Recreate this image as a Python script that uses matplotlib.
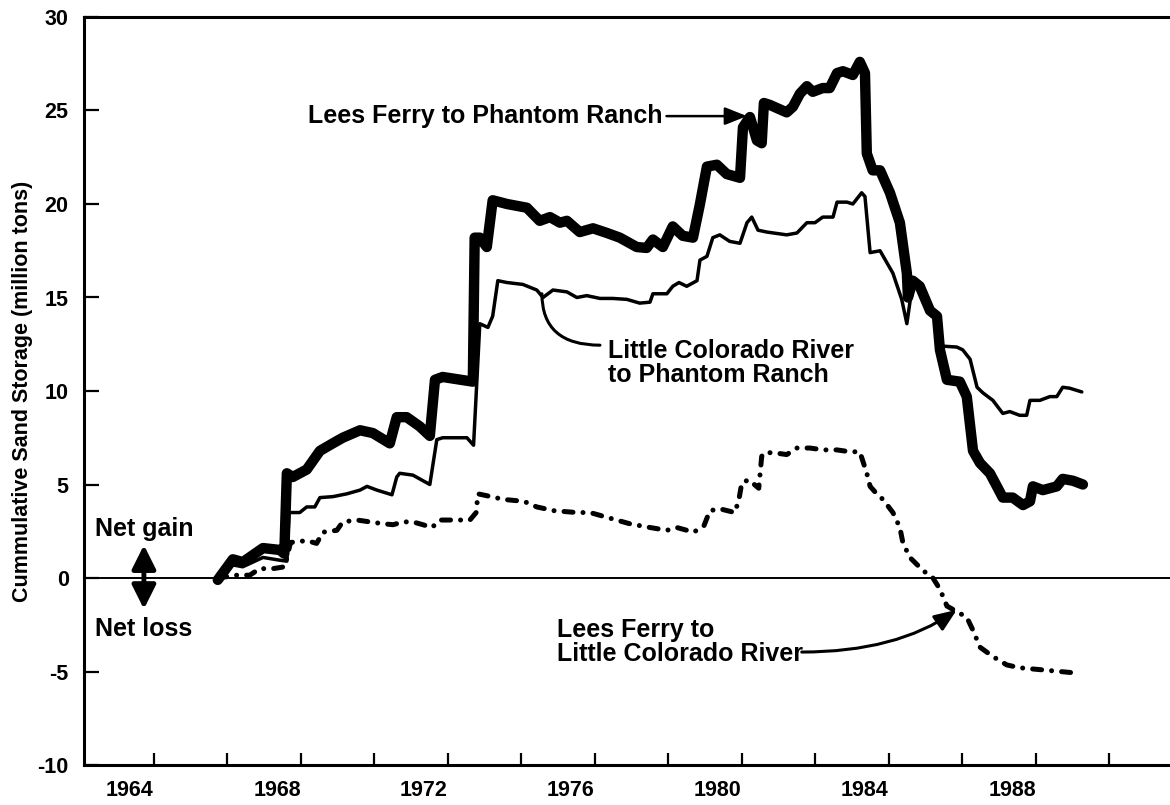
import numpy as np
import matplotlib
matplotlib.use("Agg")
import matplotlib.pyplot as plt

plt.rcParams['font.family'] = ['Liberation Sans', 'DejaVu Sans']
plt.rcParams['font.weight'] = 'bold'
plt.rcParams['axes.unicode_minus'] = False

# Lees Ferry to Phantom Ranch (heavy line)
lfpr_years = [1965.74, 1966.15, 1966.42, 1966.97, 1967.43, 1967.55, 1967.62, 1967.78,
              1968.16, 1968.52, 1968.87, 1969.14, 1969.61, 1969.96, 1970.42, 1970.61,
              1970.88, 1971.24, 1971.51, 1971.65, 1971.86, 1972.68, 1972.73, 1972.87,
              1973.06, 1973.22, 1973.61, 1974.15, 1974.50, 1974.78, 1975.05, 1975.24,
              1975.59, 1975.95, 1976.33, 1976.68, 1977.14, 1977.41, 1977.58, 1977.85,
              1978.12, 1978.39, 1978.67, 1978.86, 1979.05, 1979.32, 1979.59, 1979.95,
              1980.03, 1980.22, 1980.41, 1980.54, 1980.60, 1980.76, 1981.22, 1981.39,
              1981.58, 1981.77, 1981.93, 1982.20, 1982.39, 1982.59, 1982.75, 1983.02,
              1983.21, 1983.35, 1983.40, 1983.56, 1983.76, 1984.03, 1984.30, 1984.49,
              1984.52, 1984.65, 1984.84, 1985.12, 1985.31, 1985.39, 1985.58, 1985.93,
              1986.12, 1986.29, 1986.48, 1986.75, 1986.94, 1987.10, 1987.37, 1987.65,
              1987.84, 1987.92, 1988.19, 1988.57, 1988.73, 1989.01, 1989.28]
lfpr_storage = [-0.1, 1.0, 0.85, 1.6, 1.5, 1.3, 5.6, 5.4,
                5.8, 6.8, 7.2, 7.5, 7.9, 7.75, 7.2, 8.6,
                8.6, 8.1, 7.6, 10.6, 10.75, 10.5, 18.2, 18.2,
                17.7, 20.2, 20.0, 19.8, 19.1, 19.3, 19.0, 19.1,
                18.5, 18.7, 18.45, 18.2, 17.7, 17.65, 18.1, 17.7,
                18.8, 18.3, 18.2, 20.0, 22.0, 22.1, 21.6, 21.4,
                24.1, 24.65, 23.4, 23.25, 25.4, 25.3, 24.9, 25.2,
                25.9, 26.3, 26.0, 26.2, 26.2, 27.0, 27.1, 26.9,
                27.6, 27.0, 22.7, 21.8, 21.8, 20.6, 19.0, 16.3,
                15.0, 15.9, 15.6, 14.3, 14.0, 12.2, 10.6, 10.5,
                9.7, 6.8, 6.15, 5.6, 4.9, 4.3, 4.3, 3.9,
                4.1, 4.9, 4.7, 4.9, 5.3, 5.2, 5.0]

# Little Colorado River to Phantom Ranch (thin line)
lcpr_years = [1965.74, 1966.15, 1966.42, 1966.97, 1967.43, 1967.62, 1967.68, 1967.97,
              1968.16, 1968.38, 1968.52, 1968.87, 1969.25, 1969.61, 1969.80, 1970.07,
              1970.48, 1970.61, 1970.69, 1971.05, 1971.51, 1971.70, 1971.86, 1972.52,
              1972.70, 1972.87, 1973.09, 1973.22, 1973.36, 1973.61, 1974.04, 1974.42,
              1974.59, 1974.86, 1975.24, 1975.51, 1975.78, 1976.14, 1976.49, 1976.87,
              1977.22, 1977.50, 1977.58, 1977.96, 1978.12, 1978.29, 1978.50, 1978.78,
              1978.86, 1979.05, 1979.21, 1979.40, 1979.67, 1979.95, 1980.14, 1980.27,
              1980.44, 1980.68, 1981.22, 1981.50, 1981.77, 1981.99, 1982.20, 1982.48,
              1982.59, 1982.86, 1983.02, 1983.26, 1983.35, 1983.49, 1983.76, 1984.11,
              1984.35, 1984.49, 1984.65, 1984.84, 1985.12, 1985.31, 1985.45, 1985.85,
              1986.01, 1986.21, 1986.40, 1986.56, 1986.83, 1987.10, 1987.29, 1987.56,
              1987.75, 1987.84, 1988.11, 1988.38, 1988.57, 1988.73, 1988.92, 1989.25]
lcpr_storage = [-0.1, 0.7, 0.6, 1.1, 0.95, 0.9, 3.5, 3.5,
                3.8, 3.8, 4.3, 4.35, 4.5, 4.7, 4.9, 4.7,
                4.45, 5.4, 5.6, 5.5, 5.0, 7.4, 7.5, 7.5,
                7.1, 13.6, 13.4, 14.0, 15.9, 15.8, 15.7, 15.4,
                15.0, 15.4, 15.3, 15.0, 15.1, 14.95, 14.95, 14.9,
                14.7, 14.75, 15.2, 15.2, 15.6, 15.8, 15.6, 15.9,
                17.0, 17.2, 18.2, 18.35, 18.0, 17.9, 19.0, 19.3,
                18.6, 18.5, 18.35, 18.45, 19.0, 19.0, 19.3, 19.3,
                20.1, 20.1, 20.0, 20.6, 20.4, 17.4, 17.5, 16.3,
                14.9, 13.6, 15.8, 15.4, 14.2, 13.8, 12.4, 12.35,
                12.2, 11.7, 10.2, 9.9, 9.5, 8.8, 8.9, 8.7,
                8.7, 9.5, 9.5, 9.7, 9.7, 10.2, 10.15, 9.95]

# Lees Ferry to Little Colorado River (dash-dot line)
lflc_years = [1965.74, 1966.26, 1966.61, 1966.88, 1967.24, 1967.56, 1967.72, 1968.16,
              1968.43, 1968.60, 1968.98, 1969.14, 1969.53, 1969.88, 1970.24, 1970.51,
              1970.78, 1971.05, 1971.32, 1971.57, 1971.78, 1972.33, 1972.60, 1972.77,
              1972.82, 1973.06, 1973.52, 1974.07, 1974.42, 1974.89, 1975.51, 1975.87,
              1976.41, 1976.95, 1977.50, 1977.96, 1978.23, 1978.69, 1978.97, 1979.13,
              1979.40, 1979.81, 1979.92, 1980.00, 1980.19, 1980.46, 1980.54, 1980.60,
              1980.87, 1981.22, 1981.50, 1981.85, 1982.23, 1982.59, 1982.94, 1983.21,
              1983.40, 1983.49, 1983.67, 1983.84, 1984.11, 1984.30, 1984.38, 1984.57,
              1984.93, 1985.20, 1985.39, 1985.58, 1985.85, 1986.12, 1986.29, 1986.48,
              1986.83, 1987.21, 1987.56, 1988.11, 1988.65, 1989.20]
lflc_storage = [0.0, 0.15, 0.15, 0.5, 0.5, 0.6, 1.9, 2.0,
                1.85, 2.45, 2.55, 3.0, 3.1, 3.0, 2.9, 2.85,
                3.0, 3.0, 2.85, 2.7, 3.1, 3.1, 3.1, 3.5,
                4.5, 4.4, 4.2, 4.1, 3.8, 3.6, 3.5, 3.5,
                3.2, 2.9, 2.7, 2.55, 2.7, 2.45, 2.8, 3.6,
                3.7, 3.5, 4.2, 5.1, 5.25, 4.8, 6.5, 6.7,
                6.7, 6.6, 6.95, 6.95, 6.85, 6.85, 6.75, 6.75,
                5.6, 4.9, 4.5, 4.2, 3.5, 2.7, 1.9, 1.1,
                0.4, 0.0, -0.6, -1.5, -1.8, -2.1, -2.8, -3.7,
                -4.2, -4.65, -4.8, -4.9, -5.0, -5.1]

x_ticks = list(range(1964, 1991, 2))
x_labels = [str(y) if (y - 1964) % 4 == 0 else '' for y in x_ticks]
y_ticks = [-10, -5, 0, 5, 10, 15, 20, 25, 30]

fig = plt.figure(figsize=(11.7, 8.05), dpi=100)
ax = fig.add_axes([84 / 1170, 40 / 805, 1 - 84 / 1170, 748 / 805])

ax.axhline(0, color='black', lw=1.4, zorder=1)

ax.plot(lfpr_years, lfpr_storage, color='black', lw=7.5,
        solid_joinstyle='round', solid_capstyle='round', zorder=3)
ax.plot(lcpr_years, lcpr_storage, color='black', lw=2.5,
        solid_joinstyle='round', solid_capstyle='round', zorder=2)
ax.plot(lflc_years, lflc_storage, color='black', lw=3.6,
        dashes=(1.8, 2.0, 0.01, 2.0), dash_capstyle='round',
        dash_joinstyle='round', zorder=2)

ax.set_xlim(1962.1, 1991.65)
ax.set_ylim(-10, 30)
ax.set_xticks(x_ticks)
ax.set_xticklabels(x_labels, ha='right')
ax.set_yticks(y_ticks)
ax.tick_params(axis='x', direction='in', length=8.5, width=1.6, pad=11, labelsize=15.5)
ax.tick_params(axis='y', direction='in', length=11, width=1.6, pad=11, labelsize=15.5)
for s in ['left', 'bottom', 'top']:
    ax.spines[s].set_linewidth(2.2)
ax.spines['right'].set_visible(False)

ax.set_ylabel('Cummulative Sand Storage (million tons)', fontsize=15.5, fontweight='bold')
ax.yaxis.set_label_coords(-0.047, 0.5)

txt = dict(fontsize=18, fontweight='bold', color='black')
head = 'head_length=0.75,head_width=0.3'

# Lees Ferry to Phantom Ranch
ax.text(1977.85, 24.33, 'Lees Ferry to Phantom Ranch', ha='right', va='baseline', **txt)
ax.annotate('', xy=(1980.14, 24.7), xytext=(1977.95, 24.7),
            arrowprops=dict(arrowstyle='-|>,' + head, mutation_scale=18,
                            color='black', lw=1.8, shrinkA=0, shrinkB=0))

# Little Colorado River to Phantom Ranch
ax.text(1976.35, 12.78, 'Little Colorado River\nto Phantom Ranch', ha='left', va='top',
        linespacing=1.0, **txt)
ax.annotate('', xy=(1974.56, 15.2), xytext=(1976.14, 12.45),
            arrowprops=dict(arrowstyle='-', color='black', lw=2.2,
                            connectionstyle='angle3,angleA=0,angleB=90',
                            shrinkA=0, shrinkB=0))

# Lees Ferry to Little Colorado River
ax.text(1974.97, -2.14, 'Lees Ferry to\nLittle Colorado River', ha='left', va='top',
        linespacing=1.0, **txt)
ax.annotate('', xy=(1985.85, -1.7), xytext=(1981.63, -3.96),
            arrowprops=dict(arrowstyle='-|>,' + head, mutation_scale=18,
                            color='black', lw=2.2,
                            connectionstyle='angle3,angleA=0,angleB=35',
                            shrinkA=0, shrinkB=0))

# Net gain / net loss
ax.text(1963.73, 3.26, 'Net gain', ha='center', va='top', **txt)
ax.text(1963.73, -2.09, 'Net loss', ha='center', va='top', **txt)
ax.annotate('', xy=(1963.73, 1.76), xytext=(1963.73, -1.66),
            arrowprops=dict(arrowstyle='<|-|>,head_length=0.8,head_width=0.4',
                            mutation_scale=18, color='black', lw=3.5,
                            shrinkA=0, shrinkB=0))

fig.savefig('out.png', dpi=100)
